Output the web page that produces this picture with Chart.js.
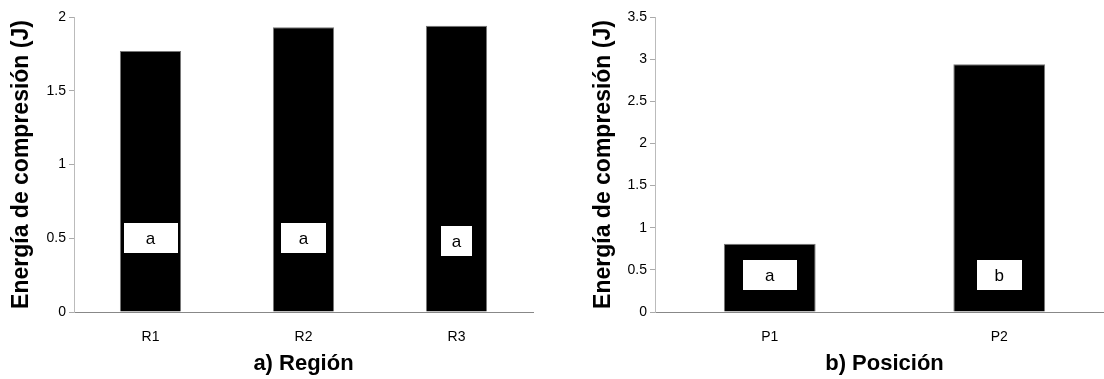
<!DOCTYPE html>
<html>
<head>
<meta charset="utf-8">
<script src="https://cdn.jsdelivr.net/npm/chart.js@4.4.0/dist/chart.umd.min.js"></script>
<style>
	html, body { margin: 0; padding: 0; background: #fff; overflow: hidden; }
	.wrap { position: absolute; top: 0; height: 379px; }
	#w1 { left: 0; width: 582px; }
	#w2 { left: 582px; width: 532px; }
</style>
</head>
<body>
<div class="wrap" id="w1"><canvas id="regionChart"></canvas></div>
<div class="wrap" id="w2"><canvas id="posChart"></canvas></div>
<script>
"use strict"

// data
const regionLabels = ["R1", "R2", "R3"]
const regionValues = [1.77, 1.93, 1.94]
const regionLetters = ["a", "a", "a"]
const regionLetterY = [0.5, 0.5, 0.48]
const regionTicks = [0, 0.5, 1, 1.5, 2]

const posLabels = ["P1", "P2"]
const posValues = [0.81, 2.94]
const posLetters = ["a", "b"]
const posLetterY = [0.44, 0.44]
const posTicks = [0, 0.5, 1, 1.5, 2, 2.5, 3, 3.5]

const FONT = "'Liberation Sans', Arial, sans-serif"

// white boxes with the letters over the bars
const letterBoxes = {
	id: "letterBoxes",
	afterDatasetsDraw(chart, args, opts) {
		const ctx = chart.ctx
		const meta = chart.getDatasetMeta(0)
		const y = chart.scales.y
		ctx.save()
		meta.data.forEach((bar, i) => {
			const w = opts.widths[i]
			const h = 30
			const cy = y.getPixelForValue(opts.at[i])
			ctx.fillStyle = "#fff"
			ctx.fillRect(Math.round(bar.x - w / 2), Math.round(cy - h / 2), w, h)
			ctx.fillStyle = "#000"
			ctx.font = "17px " + FONT
			ctx.textAlign = "center"
			ctx.textBaseline = "middle"
			ctx.fillText(opts.letters[i], bar.x, cy + 1)
		})
		ctx.restore()
	},
}

function makeChart(id, labels, values, ticks, max, xTitle, letters, at, widths, padRight, yWidth) {
	return new Chart(document.getElementById(id), {
		type: "bar",
		data: {
			labels: labels,
			datasets: [
				{
					data: values,
					backgroundColor: "#000",
					borderColor: "#777",
					borderWidth: 1,
					categoryPercentage: 1,
					barPercentage: 0.4,
				},
			],
		},
		options: {
			responsive: true,
			maintainAspectRatio: false,
			animation: false,
			layout: {
				padding: { top: 17, right: padRight, left: 0, bottom: 0 },
			},
			plugins: {
				legend: { display: false },
				tooltip: { enabled: false },
				letterBoxes: { letters: letters, at: at, widths: widths },
			},
			scales: {
				x: {
					grid: { display: false },
					border: { color: "#888", width: 1 },
					ticks: { color: "#000", font: { family: FONT, size: 14 }, padding: 9 },
					title: {
						display: true,
						text: xTitle,
						color: "#000",
						font: { family: FONT, size: 22, weight: "bold" },
						padding: { top: 0, bottom: 2 },
					},
					afterFit(scale) {
						scale.height = 67
					},
				},
				y: {
					min: 0,
					max: max,
					afterBuildTicks(scale) {
						scale.ticks = ticks.map((v) => ({ value: v }))
					},
					grid: {
						drawOnChartArea: false,
						drawTicks: true,
						tickLength: 5,
						color: "#aaa",
					},
					border: { color: "#bbb", width: 1 },
					ticks: {
						color: "#000",
						font: { family: FONT, size: 14 },
						padding: 3,
						callback: (v) => String(v),
					},
					title: {
						display: true,
						text: "Energía de compresión (J)",
						color: "#000",
						font: { family: FONT, size: 23, weight: "bold" },
						padding: { top: 8, bottom: 0 },
					},
					afterFit(scale) {
						scale.width = yWidth
					},
				},
			},
		},
		plugins: [letterBoxes],
	})
}

makeChart("regionChart", regionLabels, regionValues, regionTicks, 2, "a) Región",
	regionLetters, regionLetterY, [54, 45, 31], 49, 74)

makeChart("posChart", posLabels, posValues, posTicks, 3.5, "b) Posición",
	posLetters, posLetterY, [54, 45], 0, 73)
</script>
</body>
</html>
